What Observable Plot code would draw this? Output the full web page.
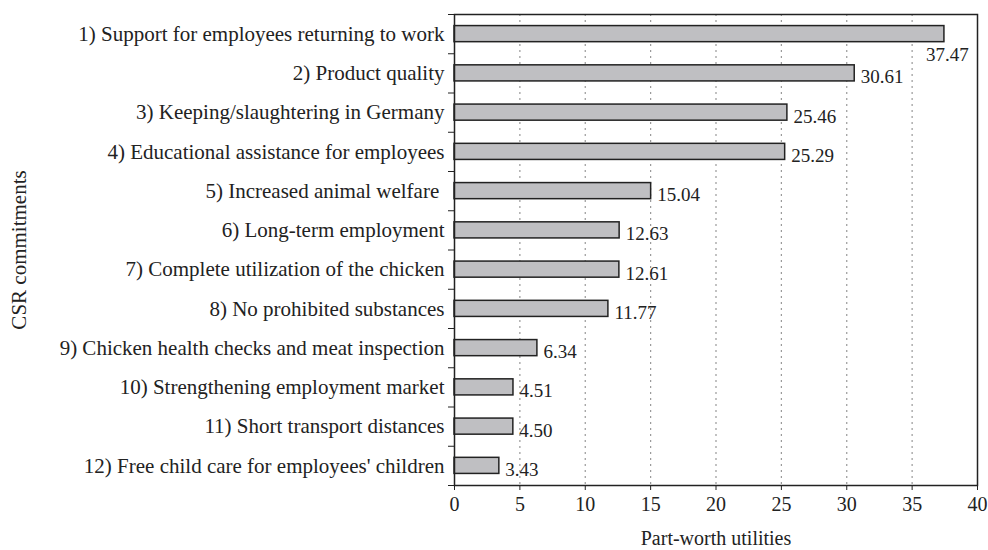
<!DOCTYPE html>
<html><head><meta charset="utf-8">
<script src="https://cdn.jsdelivr.net/npm/d3@7"></script>
<script src="https://cdn.jsdelivr.net/npm/@observablehq/plot@0.6"></script>
<style>body{margin:0;background:#fff}</style>
</head><body><div id="chart"></div>
<script>
const categories = [
  "1) Support for employees returning to work",
  "2) Product quality",
  "3) Keeping/slaughtering in Germany",
  "4) Educational assistance for employees",
  "5) Increased animal welfare ",
  "6) Long-term employment",
  "7) Complete utilization of the chicken",
  "8) No prohibited substances",
  "9) Chicken health checks and meat inspection",
  "10) Strengthening employment market",
  "11) Short transport distances",
  "12) Free child care for employees' children"
];
const values = [37.47, 30.61, 25.46, 25.29, 15.04, 12.63, 12.61, 11.77, 6.34, 4.51, 4.50, 3.43];
const xTicks = [0, 5, 10, 15, 20, 25, 30, 35, 40];
const gridTicks = [5, 10, 15, 20, 25, 30, 35];

const data = categories.map((c, i) => ({cat: c, rank: i + 1, value: values[i]}));
const boundaries = d3.range(0.5, categories.length + 1, 1);
const half = 0.205;
const font = "'Liberation Serif', 'Times New Roman', serif";

const chart = Plot.plot({
  width: 988, height: 550,
  marginLeft: 454, marginRight: 11, marginTop: 14, marginBottom: 65,
  style: {fontFamily: font, fontSize: "20px", color: "#222", background: "#fff"},
  x: {domain: [0, 40]},
  y: {domain: [categories.length + 0.5, 0.5]},
  marks: [
    Plot.ruleX(gridTicks, {stroke: "#999", strokeWidth: 1.2, strokeDasharray: "2,4"}),
    Plot.rectX(data, {x1: 0, x2: "value", y1: d => d.rank - half, y2: d => d.rank + half,
      fill: "#bfbfc2", stroke: "#222", strokeWidth: 1.5}),
    Plot.text(data.filter((d, i) => i > 0), {x: "value", y: "rank", text: d => d.value.toFixed(2),
      textAnchor: "start", dx: 6, dy: 4, fontSize: 19, fill: "#222"}),
    Plot.text(data.filter((d, i) => i === 0), {x: "value", y: "rank", text: d => d.value.toFixed(2),
      textAnchor: "middle", dx: 3, dy: 21, fontSize: 19, fill: "#222"}),
    Plot.axisX({ticks: xTicks, tickSize: 5, tickPadding: 6, fontSize: 20,
      label: "Part-worth utilities", labelAnchor: "center", labelArrow: false, labelOffset: 59}),
    Plot.axisY({ticks: d3.range(1, categories.length + 1), tickSize: 0, tickPadding: 10, fontSize: 21,
      tickFormat: i => categories[i - 1],
      label: "CSR commitments", labelAnchor: "center", labelArrow: false, labelOffset: 443}),
    Plot.axisY({ticks: boundaries, tickSize: 6, tickFormat: null, label: null, text: null}),
    Plot.frame({stroke: "#222", strokeWidth: 1.5})
  ]
});
document.getElementById("chart").appendChild(chart);
</script></body></html>
